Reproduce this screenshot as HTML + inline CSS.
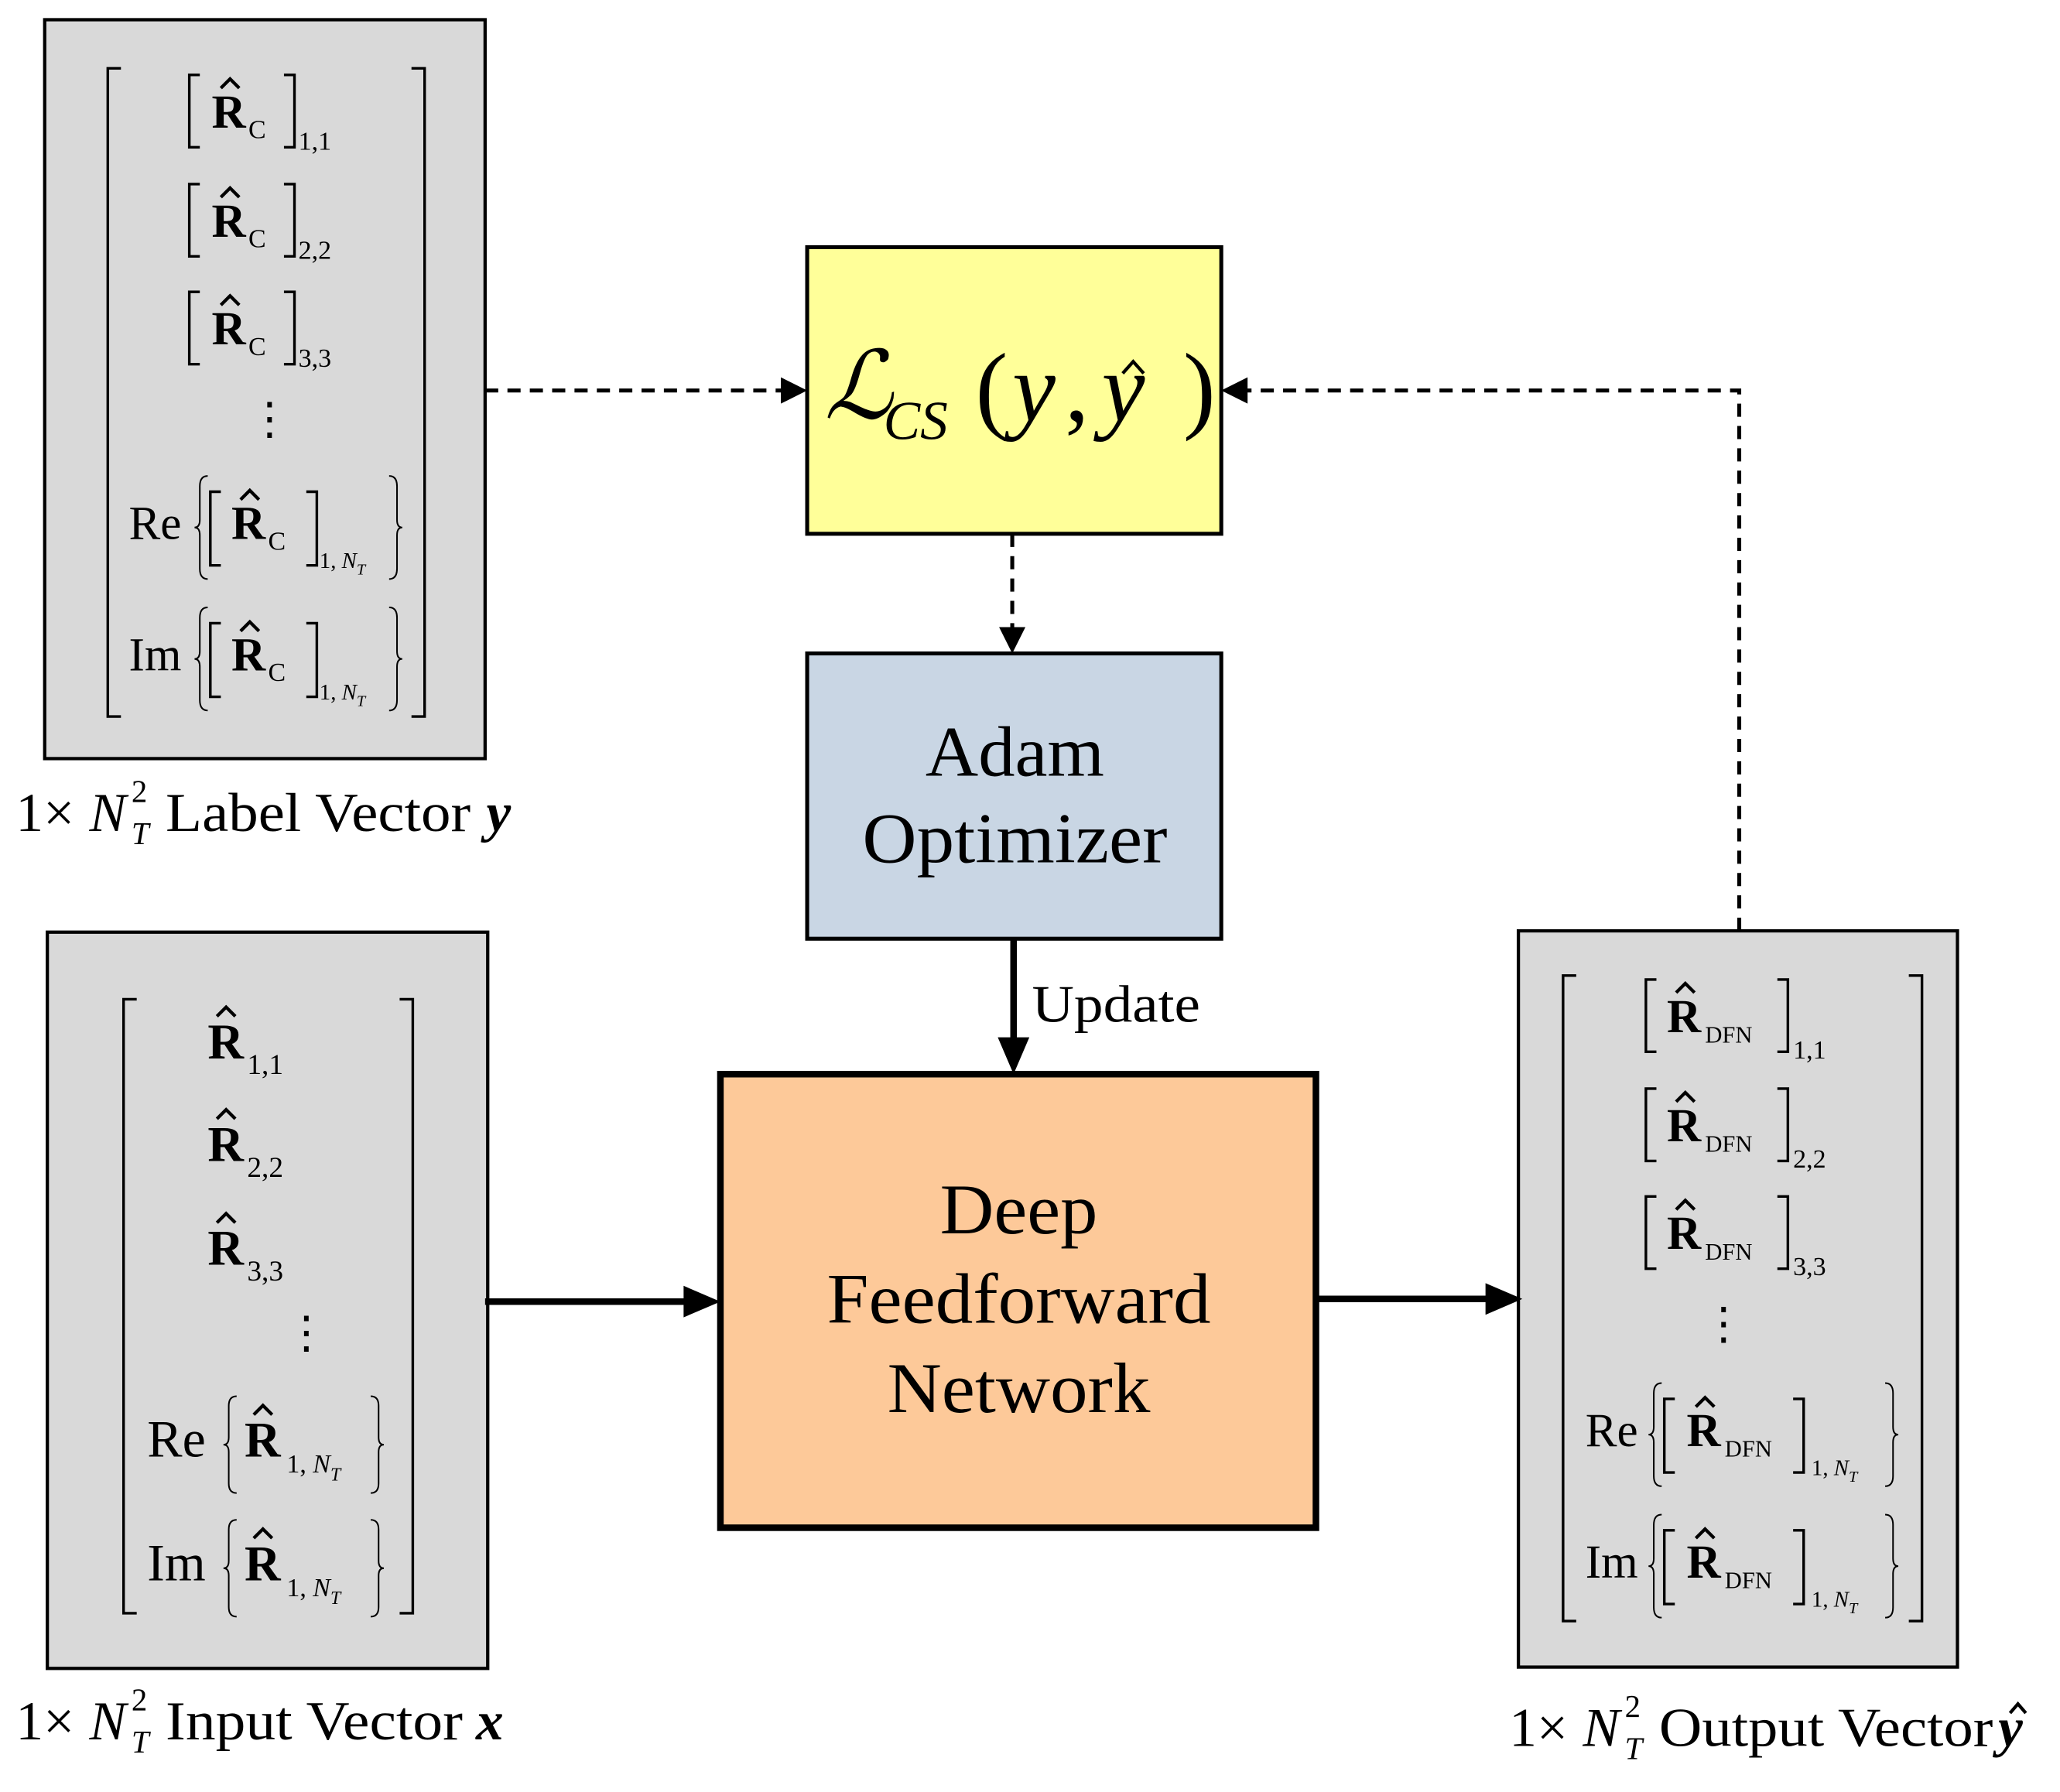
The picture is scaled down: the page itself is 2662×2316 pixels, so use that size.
<!DOCTYPE html>
<html><head><style>html,body{margin:0;padding:0;background:#fff}svg{display:block}</style></head>
<body>
<svg width="2662" height="2316" viewBox="0 0 1567 1363" preserveAspectRatio="none" xmlns="http://www.w3.org/2000/svg" font-family="'Liberation Serif', serif">
<defs>
<path id="lb" d="M10,0 Q4,0 4,8 V34 Q4,40 0,40 Q4,40 4,46 V72 Q4,80 10,80" fill="none" stroke="#000" stroke-width="2" vector-effect="non-scaling-stroke"/>
<path id="rb" d="M0,0 Q6,0 6,8 V34 Q6,40 10,40 Q6,40 6,46 V72 Q6,80 0,80" fill="none" stroke="#000" stroke-width="2" vector-effect="non-scaling-stroke"/>
</defs>
<g stroke="#000" stroke-width="2.5">
<rect x="34" y="15" width="335" height="562" fill="#d9d9d9"/>
<rect x="36" y="709" width="335" height="560" fill="#d9d9d9"/>
<rect x="1155" y="708" width="334" height="560" fill="#d9d9d9"/>
<rect x="614" y="188" width="315" height="218" fill="#ffff99" stroke-width="3"/>
<rect x="614" y="497" width="315" height="217" fill="#c9d6e4" stroke-width="3"/>
<rect x="548" y="817" width="453" height="345" fill="#fdc999" stroke-width="5"/>
</g>
<g fill="none" stroke="#000" stroke-width="2">
<path d="M92,52 H82 V545 H92 M313,52 H323 V545 H313"/>
<path d="M104,760 H94 V1227 H104 M304,760 H314 V1227 H304"/>
<path d="M1199,742 H1189 V1233 H1199 M1452,742 H1462 V1233 H1452"/>
</g>
<g stroke="#000" fill="none">
<path d="M369,297 H600" stroke-width="3" stroke-dasharray="10,7"/>
<path d="M1323,708 V297 H943" stroke-width="3" stroke-dasharray="10,7"/>
<path d="M770,406 V482" stroke-width="3" stroke-dasharray="10,7"/>
<path d="M771,714 V795" stroke-width="5"/>
<path d="M369,990 H528" stroke-width="5"/>
<path d="M1001,988 H1137" stroke-width="5"/>
</g>
<g fill="#000">
<path d="M614,297 L594,287 L594,307Z"/>
<path d="M929,297 L949,287 L949,307Z"/>
<path d="M770,497 L760,477 L780,477Z"/>
<path d="M771,817 L759,789 L783,789Z"/>
<path d="M548,990 L520,978 L520,1002Z"/>
<path d="M1158,988 L1130,976 L1130,1000Z"/>
</g>
<text x="627" y="318" font-size="72" font-style="italic" font-family="'DejaVu Serif', serif">ℒ</text>
<text x="672" y="334" font-size="42" font-style="italic">CS</text>
<text x="742" y="320" font-size="74">(</text>
<text x="770" y="320" font-size="74" font-style="italic">y</text>
<text x="810" y="320" font-size="74">,</text>
<text x="838" y="320" font-size="74" font-style="italic">y</text>
<path d="M854,284 l8,-9 l8,9" fill="none" stroke="#000" stroke-width="2.5"/>
<text x="900" y="320" font-size="74">)</text>
<text x="772" y="590" font-size="54" text-anchor="middle" textLength="136" lengthAdjust="spacingAndGlyphs">Adam</text>
<text x="772" y="656" font-size="54" text-anchor="middle" textLength="232" lengthAdjust="spacingAndGlyphs">Optimizer</text>
<text x="785" y="777" font-size="40" textLength="128" lengthAdjust="spacingAndGlyphs">Update</text>
<text x="775" y="938" font-size="54" text-anchor="middle" textLength="120" lengthAdjust="spacingAndGlyphs">Deep</text>
<text x="775" y="1006" font-size="54" text-anchor="middle" textLength="292" lengthAdjust="spacingAndGlyphs">Feedforward</text>
<text x="775" y="1074" font-size="54" text-anchor="middle" textLength="200" lengthAdjust="spacingAndGlyphs">Network</text>

<g transform="translate(0,97)">
<path d="M152,-40 h-8 v55 h8 M216,-40 h8 v55 h-8" fill="none" stroke="#000" stroke-width="2"/>
<text x="161" y="0" font-size="36" font-weight="bold">R</text>
<path d="M168,-30 l7,-7 l7,7" fill="none" stroke="#000" stroke-width="2.5"/>
<text x="189" y="8" font-size="20">C</text>
<text x="227" y="17" font-size="20">1,1</text>
</g>
<g transform="translate(0,180)">
<path d="M152,-40 h-8 v55 h8 M216,-40 h8 v55 h-8" fill="none" stroke="#000" stroke-width="2"/>
<text x="161" y="0" font-size="36" font-weight="bold">R</text>
<path d="M168,-30 l7,-7 l7,7" fill="none" stroke="#000" stroke-width="2.5"/>
<text x="189" y="8" font-size="20">C</text>
<text x="227" y="17" font-size="20">2,2</text>
</g>
<g transform="translate(0,262)">
<path d="M152,-40 h-8 v55 h8 M216,-40 h8 v55 h-8" fill="none" stroke="#000" stroke-width="2"/>
<text x="161" y="0" font-size="36" font-weight="bold">R</text>
<path d="M168,-30 l7,-7 l7,7" fill="none" stroke="#000" stroke-width="2.5"/>
<text x="189" y="8" font-size="20">C</text>
<text x="227" y="17" font-size="20">3,3</text>
</g>
<text x="188" y="330" font-size="34">⋮</text>
<g transform="translate(0,410)">
<text x="98" y="0" font-size="36">Re</text>
<use href="#lb" transform="translate(148,-48) scale(1,0.98)"/>
<path d="M168,-36 h-8 v56 h8 M233,-36 h8 v56 h-8" fill="none" stroke="#000" stroke-width="2"/>
<text x="176" y="0" font-size="36" font-weight="bold">R</text>
<path d="M183,-30 l7,-7 l7,7" fill="none" stroke="#000" stroke-width="2.5"/>
<text x="204" y="8" font-size="20">C</text>
<text x="243" y="22" font-size="17">1, <tspan font-style="italic">N</tspan><tspan font-size="12" font-style="italic" dy="5">T</tspan></text>
<use href="#rb" transform="translate(296,-48) scale(1,0.98)"/>
</g>
<g transform="translate(0,510)">
<text x="98" y="0" font-size="36">Im</text>
<use href="#lb" transform="translate(148,-48) scale(1,0.98)"/>
<path d="M168,-36 h-8 v56 h8 M233,-36 h8 v56 h-8" fill="none" stroke="#000" stroke-width="2"/>
<text x="176" y="0" font-size="36" font-weight="bold">R</text>
<path d="M183,-30 l7,-7 l7,7" fill="none" stroke="#000" stroke-width="2.5"/>
<text x="204" y="8" font-size="20">C</text>
<text x="243" y="22" font-size="17">1, <tspan font-style="italic">N</tspan><tspan font-size="12" font-style="italic" dy="5">T</tspan></text>
<use href="#rb" transform="translate(296,-48) scale(1,0.98)"/>
</g>

<g transform="translate(0,805)">
<text x="158" y="0" font-size="38" font-weight="bold">R</text>
<path d="M165,-32 l7,-7 l7,7" fill="none" stroke="#000" stroke-width="2.5"/>
<text x="188" y="12" font-size="22">1,1</text>
</g>
<g transform="translate(0,883)">
<text x="158" y="0" font-size="38" font-weight="bold">R</text>
<path d="M165,-32 l7,-7 l7,7" fill="none" stroke="#000" stroke-width="2.5"/>
<text x="188" y="12" font-size="22">2,2</text>
</g>
<g transform="translate(0,962)">
<text x="158" y="0" font-size="38" font-weight="bold">R</text>
<path d="M165,-32 l7,-7 l7,7" fill="none" stroke="#000" stroke-width="2.5"/>
<text x="188" y="12" font-size="22">3,3</text>
</g>
<text x="216" y="1025" font-size="34">⋮</text>
<g transform="translate(0,1108)">
<text x="112" y="0" font-size="40">Re</text>
<use href="#lb" transform="translate(170,-46) scale(1,0.92)"/>
<text x="186" y="0" font-size="38" font-weight="bold">R</text>
<path d="M193,-32 l7,-7 l7,7" fill="none" stroke="#000" stroke-width="2.5"/>
<text x="218" y="12" font-size="20">1, <tspan font-style="italic">N</tspan><tspan font-size="14" font-style="italic" dy="6">T</tspan></text>
<use href="#rb" transform="translate(282,-46) scale(1,0.92)"/>
</g>
<g transform="translate(0,1202)">
<text x="112" y="0" font-size="40">Im</text>
<use href="#lb" transform="translate(170,-46) scale(1,0.92)"/>
<text x="186" y="0" font-size="38" font-weight="bold">R</text>
<path d="M193,-32 l7,-7 l7,7" fill="none" stroke="#000" stroke-width="2.5"/>
<text x="218" y="12" font-size="20">1, <tspan font-style="italic">N</tspan><tspan font-size="14" font-style="italic" dy="6">T</tspan></text>
<use href="#rb" transform="translate(282,-46) scale(1,0.92)"/>
</g>

<g transform="translate(0,785)">
<path d="M1260,-40 h-8 v55 h8 M1352,-40 h8 v55 h-8" fill="none" stroke="#000" stroke-width="2"/>
<text x="1268" y="0" font-size="36" font-weight="bold">R</text>
<path d="M1275,-30 l7,-7 l7,7" fill="none" stroke="#000" stroke-width="2.5"/>
<text x="1297" y="8" font-size="18">DFN</text>
<text x="1364" y="20" font-size="20">1,1</text>
</g>
<g transform="translate(0,868)">
<path d="M1260,-40 h-8 v55 h8 M1352,-40 h8 v55 h-8" fill="none" stroke="#000" stroke-width="2"/>
<text x="1268" y="0" font-size="36" font-weight="bold">R</text>
<path d="M1275,-30 l7,-7 l7,7" fill="none" stroke="#000" stroke-width="2.5"/>
<text x="1297" y="8" font-size="18">DFN</text>
<text x="1364" y="20" font-size="20">2,2</text>
</g>
<g transform="translate(0,950)">
<path d="M1260,-40 h-8 v55 h8 M1352,-40 h8 v55 h-8" fill="none" stroke="#000" stroke-width="2"/>
<text x="1268" y="0" font-size="36" font-weight="bold">R</text>
<path d="M1275,-30 l7,-7 l7,7" fill="none" stroke="#000" stroke-width="2.5"/>
<text x="1297" y="8" font-size="18">DFN</text>
<text x="1364" y="20" font-size="20">3,3</text>
</g>
<text x="1294" y="1018" font-size="34">⋮</text>
<g transform="translate(0,1100)">
<text x="1206" y="0" font-size="36">Re</text>
<use href="#lb" transform="translate(1254,-48) scale(1,0.98)"/>
<path d="M1274,-36 h-8 v56 h8 M1364,-36 h8 v56 h-8" fill="none" stroke="#000" stroke-width="2"/>
<text x="1283" y="0" font-size="36" font-weight="bold">R</text>
<path d="M1290,-30 l7,-7 l7,7" fill="none" stroke="#000" stroke-width="2.5"/>
<text x="1312" y="8" font-size="18">DFN</text>
<text x="1378" y="22" font-size="17">1, <tspan font-style="italic">N</tspan><tspan font-size="12" font-style="italic" dy="5">T</tspan></text>
<use href="#rb" transform="translate(1434,-48) scale(1,0.98)"/>
</g>
<g transform="translate(0,1200)">
<text x="1206" y="0" font-size="36">Im</text>
<use href="#lb" transform="translate(1254,-48) scale(1,0.98)"/>
<path d="M1274,-36 h-8 v56 h8 M1364,-36 h8 v56 h-8" fill="none" stroke="#000" stroke-width="2"/>
<text x="1283" y="0" font-size="36" font-weight="bold">R</text>
<path d="M1290,-30 l7,-7 l7,7" fill="none" stroke="#000" stroke-width="2.5"/>
<text x="1312" y="8" font-size="18">DFN</text>
<text x="1378" y="22" font-size="17">1, <tspan font-style="italic">N</tspan><tspan font-size="12" font-style="italic" dy="5">T</tspan></text>
<use href="#rb" transform="translate(1434,-48) scale(1,0.98)"/>
</g>

<g font-size="42">
<text x="12" y="632">1×</text>
<text x="68" y="632" font-style="italic">N</text>
<text x="100" y="610" font-size="24">2</text>
<text x="100" y="642" font-size="24" font-style="italic">T</text>
<text x="126" y="632" textLength="232" lengthAdjust="spacingAndGlyphs">Label Vector</text>
<text x="370" y="632" font-weight="bold" font-style="italic">y</text>

<text x="12" y="1323">1×</text>
<text x="68" y="1323" font-style="italic">N</text>
<text x="100" y="1301" font-size="24">2</text>
<text x="100" y="1333" font-size="24" font-style="italic">T</text>
<text x="126" y="1323" textLength="226" lengthAdjust="spacingAndGlyphs">Input Vector</text>
<text x="362" y="1323" font-weight="bold" font-style="italic">x</text>

<text x="1148" y="1328">1×</text>
<text x="1204" y="1328" font-style="italic">N</text>
<text x="1236" y="1306" font-size="24">2</text>
<text x="1236" y="1338" font-size="24" font-style="italic">T</text>
<text x="1262" y="1328" textLength="254" lengthAdjust="spacingAndGlyphs">Output Vector</text>
<text x="1520" y="1328" font-weight="bold" font-style="italic">y</text>
<path d="M1529,1303 l6,-7 l6,7" fill="none" stroke="#000" stroke-width="2.5"/>
</g>
</svg>
</body></html>
